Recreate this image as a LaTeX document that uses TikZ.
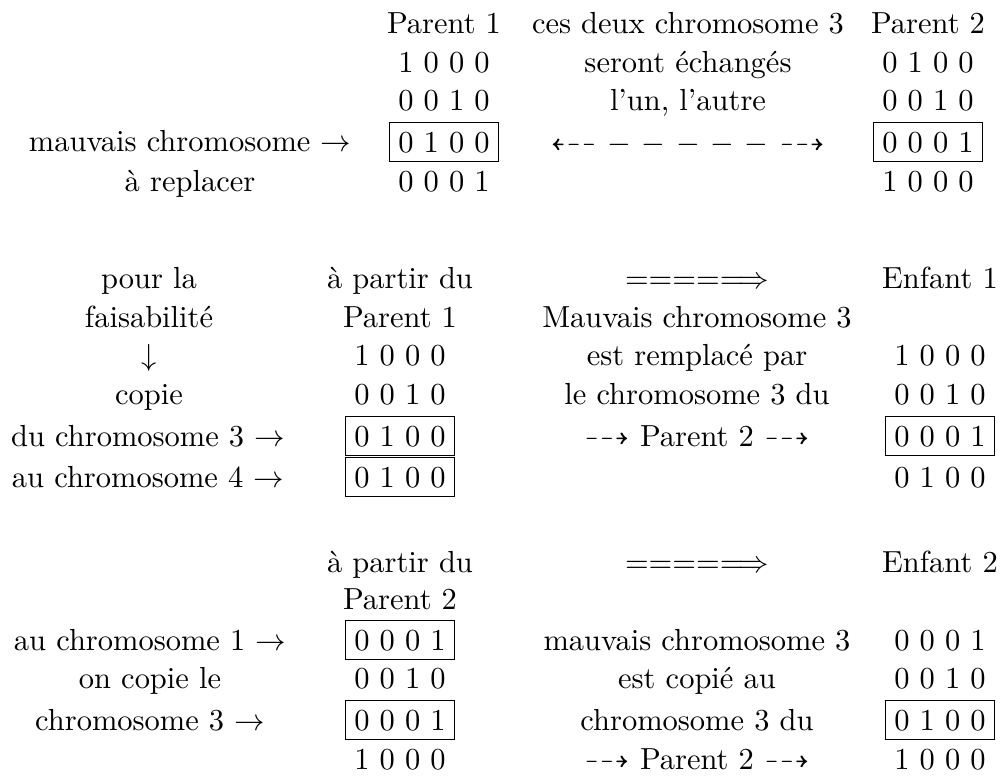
\documentclass[tikz,border=0pt]{standalone}
\usepackage{amssymb}
\usepackage{fontspec}
\newcommand{\dasharrowline}{$\dashleftarrow$\hspace{3.5pt}$-$\hspace{3.5pt}$-$\hspace{3.5pt}$-$\hspace{3.5pt}$-$\hspace{3.5pt}$-$\hspace{3.5pt}$\dashrightarrow$}
\begin{document}
\begin{tikzpicture}[x=0.328pt,y=-0.328pt,
  txt/.style={anchor=base, inner sep=0pt, font=\fontsize{10}{12}\selectfont},
  bx/.style={txt, draw, inner sep=3pt, line width=0.4pt}]
\useasboundingbox (0,0) rectangle (1000,776);
% ---------- block 1 ----------
\node[txt] (a1) at (190,151) {mauvais chromosome $\rightarrow$};
\node[txt] (a2) at (190,191) {à replacer};
\node[txt] (b1) at (444,33) {Parent 1};
\node[txt] (b2) at (444,72) {1 0 0 0};
\node[txt] (b3) at (444,110) {0 0 1 0};
\node[bx]  (b4) at (444,152) {0 1 0 0};
\node[txt] (b5) at (444,191) {0 0 0 1};
\node[txt] (c1) at (688,33) {ces deux chromosome 3};
\node[txt] (c2) at (688,72) {seront échangés};
\node[txt] (c3) at (688,110) {l’un, l’autre};
\node[txt] (c4) at (688,152) {\dasharrowline};
\node[txt] (d1) at (928,33) {Parent 2};
\node[txt] (d2) at (928,72) {0 1 0 0};
\node[txt] (d3) at (928,110) {0 0 1 0};
\node[bx]  (d4) at (928,152) {0 0 0 1};
\node[txt] (d5) at (928,191) {1 0 0 0};
% ---------- block 2 ----------
\node[txt] (e1) at (149,288) {pour la};
\node[txt] (e2) at (149,327) {faisabilité};
\node[txt] (e3) at (149,365) {$\downarrow$};
\node[txt] (e4) at (149,404) {copie};
\node[txt] (e5) at (148,446) {du chromosome 3 $\rightarrow$};
\node[txt] (e6) at (148,487) {au chromosome 4 $\rightarrow$};
\node[txt] (f1) at (400,288) {à partir du};
\node[txt] (f2) at (400,327) {Parent 1};
\node[txt] (f3) at (400,365) {1 0 0 0};
\node[txt] (f4) at (400,404) {0 0 1 0};
\node[bx]  (f5) at (400,446) {0 1 0 0};
\node[bx]  (f6) at (400,487) {0 1 0 0};
\node[txt] (g1) at (697,288) {$====\Longrightarrow$};
\node[txt] (g2) at (697,327) {Mauvais chromosome 3};
\node[txt] (g3) at (697,365) {est remplacé par};
\node[txt] (g4) at (697,404) {le chromosome 3 du};
\node[txt] (g5) at (697,446) {$\dashrightarrow$ Parent 2 $\dashrightarrow$};
\node[txt] (h1) at (940,288) {Enfant 1};
\node[txt] (h2) at (940,365) {1 0 0 0};
\node[txt] (h3) at (940,404) {0 0 1 0};
\node[bx]  (h4) at (940,446) {0 0 0 1};
\node[txt] (h5) at (940,487) {0 1 0 0};
% ---------- block 3 ----------
\node[txt] (i1) at (150,650) {au chromosome 1 $\rightarrow$};
\node[txt] (i2) at (150,688) {on copie le};
\node[txt] (i3) at (150,730) {chromosome 3 $\rightarrow$};
\node[txt] (j1) at (400,572) {à partir du};
\node[txt] (j2) at (400,609) {Parent 2};
\node[bx]  (j3) at (400,650) {0 0 0 1};
\node[txt] (j4) at (400,688) {0 0 1 0};
\node[bx]  (j5) at (400,730) {0 0 0 1};
\node[txt] (j6) at (400,769) {1 0 0 0};
\node[txt] (k1) at (697,572) {$====\Longrightarrow$};
\node[txt] (k2) at (697,650) {mauvais chromosome 3};
\node[txt] (k3) at (697,688) {est copié au};
\node[txt] (k4) at (697,730) {chromosome 3 du};
\node[txt] (k5) at (697,769) {$\dashrightarrow$ Parent 2 $\dashrightarrow$};
\node[txt] (l1) at (940,572) {Enfant 2};
\node[txt] (l2) at (940,650) {0 0 0 1};
\node[txt] (l3) at (940,688) {0 0 1 0};
\node[bx]  (l4) at (940,730) {0 1 0 0};
\node[txt] (l5) at (940,769) {1 0 0 0};
\end{tikzpicture}
\end{document}
